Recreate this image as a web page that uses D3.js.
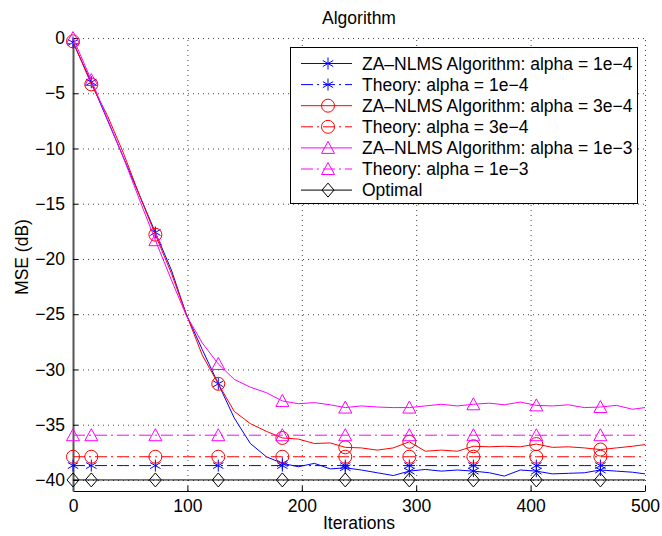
<!DOCTYPE html>
<html>
<head>
<meta charset="utf-8">
<script src="https://cdn.jsdelivr.net/npm/d3@7"></script>
<style>
    body { margin: 0; background: #fff; }
    text { font-family: "Liberation Sans", Arial, sans-serif; }
</style>
</head>
<body>
<script>
// iteration index of each sample
var iters = [0, 16, 30, 44, 58, 72, 86, 99, 113, 127, 141, 155, 169, 183, 197, 211, 225, 238, 252,
    266, 280, 294, 308, 322, 336, 350, 364, 377, 391, 405, 419, 433, 447, 461, 475, 489, 500];

var mse1e4 = [-0.4, -4.0, -7.4, -10.8, -14.2, -17.6, -21.0, -25.0, -28.2, -31.3, -34.4, -36.7, -37.9, -38.5,
    -38.8, -38.5, -39.0, -38.9, -39.1, -39.35, -39.6, -39.2, -39.05, -39.2, -39.1, -39.2, -39.35, -39.65,
    -39.1, -39.2, -39.45, -39.4, -39.35, -39.1, -39.2, -39.3, -39.45];

var mse3e4 = [-0.3, -4.2, -7.0, -10.4, -14.2, -17.8, -21.3, -25.0, -28.7, -31.3, -33.8, -34.9, -35.6, -36.2,
    -36.3, -36.7, -36.65, -37.05, -37.1, -37.3, -37.1, -36.55, -37.4, -37.3, -37.4, -36.95, -37.0, -36.95,
    -37.0, -36.75, -37.05, -37.0, -37.1, -37.25, -37.1, -36.95, -36.8];

var mse1e3 = [0.0, -3.8, -7.3, -10.8, -14.6, -18.3, -21.9, -25.1, -27.6, -29.5, -30.9, -31.6, -32.1, -32.85,
    -33.1, -33.0, -33.2, -33.45, -33.3, -33.4, -33.45, -33.45, -33.3, -33.15, -33.3, -33.15, -33.05, -33.2,
    -32.95, -33.25, -33.3, -33.2, -33.45, -33.4, -33.25, -33.6, -33.45];

// steady state levels
var theory1e4 = -38.7;
var theory3e4 = -37.9;
var theory1e3 = -35.95;
var optimal = -40;

// samples that carry a marker
var markerIdx = [0, 1, 5, 9, 13, 17, 21, 25, 29, 33];

var xTicks = [0, 100, 200, 300, 400, 500];
var yTicks = [0, -5, -10, -15, -20, -25, -30, -35, -40];

var series = [
    { name: "ZA\u2013NLMS Algorithm: alpha = 1e\u22124", values: mse1e4, color: "#0000ff", dash: null, marker: "star" },
    { name: "Theory: alpha = 1e\u22124", values: iters.map(() => theory1e4), color: "#0000ff", dash: "12,4,2,4", marker: "star" },
    { name: "ZA\u2013NLMS Algorithm: alpha = 3e\u22124", values: mse3e4, color: "#ff0000", dash: null, marker: "circle" },
    { name: "Theory: alpha = 3e\u22124", values: iters.map(() => theory3e4), color: "#ff0000", dash: "12,4,2,4", marker: "circle" },
    { name: "ZA\u2013NLMS Algorithm: alpha = 1e\u22123", values: mse1e3, color: "#ff00ff", dash: null, marker: "triangle" },
    { name: "Theory: alpha = 1e\u22123", values: iters.map(() => theory1e3), color: "#ff00ff", dash: "12,4,2,4", marker: "triangle" },
    { name: "Optimal", values: iters.map(() => optimal), color: "#000000", dash: null, marker: "diamond" }
];

var width = 662;
var height = 536;
var fontSize = 17.5;

var markerPath = {
    star: "M0,-6V6M-5.2,-3L5.2,3M-5.2,3L5.2,-3",
    circle: "M6.5,0A6.5,6.5,0,1,1,-6.5,0A6.5,6.5,0,1,1,6.5,0Z",
    triangle: "M0,-6.5L6.5,5.5L-6.5,5.5Z",
    diamond: "M0,-7L6,0L0,7L-6,0Z"
};

let svg = d3.select('body').append('svg');
svg.attr('width', width)
    .attr('height', height);

var x = d3.scaleLinear()
    .domain([0, 500])
    .range([73, 645]);

var y = d3.scaleLinear()
    .domain([-41, 0])
    .range([491, 38]);

// dotted grid
var grid = svg.append("g")
    .attr("stroke", "#444")
    .attr("stroke-width", 1)
    .attr("stroke-dasharray", "1,4");

grid.selectAll(".gx")
    .data(xTicks.slice(1))
    .enter()
    .append("line")
    .attr("x1", d => x(d) + 0.5)
    .attr("x2", d => x(d) + 0.5)
    .attr("y1", y(-41))
    .attr("y2", y(0));

grid.selectAll(".gy")
    .data(yTicks)
    .enter()
    .append("line")
    .attr("x1", x(0))
    .attr("x2", x(500))
    .attr("y1", d => y(d) + 0.5)
    .attr("y2", d => y(d) + 0.5);

// axes, ticks pointing in
var xAxis = g => g
    .attr("transform", `translate(0,${y(-41)})`)
    .call(d3.axisBottom(x)
        .tickValues(xTicks)
        .tickSizeInner(-5)
        .tickSizeOuter(0)
        .tickPadding(9));

var yAxis = g => g
    .attr("transform", `translate(${x(0)},0)`)
    .call(d3.axisLeft(y)
        .tickValues(yTicks)
        .tickSizeInner(-5)
        .tickSizeOuter(0)
        .tickPadding(8));

svg.append("g")
    .call(xAxis)
    .call(g => g.selectAll("text").attr("font-size", fontSize).attr("fill", "#000"));

svg.append("g")
    .call(yAxis)
    .call(g => g.select(".domain").attr("stroke", "#555").attr("stroke-width", 2))
    .call(g => g.selectAll("text").attr("font-size", fontSize).attr("fill", "#000"));

// curves
var line = d3.line()
    .x((d, i) => x(iters[i]))
    .y(d => y(d));

series.forEach(function (s) {
    svg.append("path")
        .attr("d", line(s.values))
        .attr("fill", "none")
        .attr("stroke", s.color)
        .attr("stroke-width", 1)
        .attr("stroke-dasharray", s.dash);

    svg.append("g")
        .selectAll("path")
        .data(markerIdx)
        .enter()
        .append("path")
        .attr("transform", i => `translate(${x(iters[i])},${y(s.values[i])})`)
        .attr("d", markerPath[s.marker])
        .attr("fill", "none")
        .attr("stroke", s.color)
        .attr("stroke-width", 1);
});

// labels
svg.append("text")
    .attr("x", 359)
    .attr("y", 24)
    .attr("text-anchor", "middle")
    .attr("font-size", fontSize)
    .text("Algorithm");

svg.append("text")
    .attr("x", 359)
    .attr("y", 529)
    .attr("text-anchor", "middle")
    .attr("font-size", fontSize)
    .text("Iterations");

svg.append("text")
    .attr("transform", "translate(28,257) rotate(-90)")
    .attr("text-anchor", "middle")
    .attr("font-size", fontSize)
    .text("MSE (dB)");

// legend
var legend = svg.append("g");

legend.append("rect")
    .attr("x", 290.5)
    .attr("y", 47.5)
    .attr("width", 347)
    .attr("height", 156)
    .attr("fill", "#fff")
    .attr("stroke", "#000");

var rows = legend.selectAll(".row")
    .data(series)
    .enter()
    .append("g")
    .attr("transform", (d, i) => `translate(0,${63.5 + i * 21.1})`);

rows.append("line")
    .attr("x1", 301)
    .attr("x2", 352)
    .attr("stroke", d => d.color)
    .attr("stroke-dasharray", d => d.dash);

rows.append("path")
    .attr("transform", "translate(328,0)")
    .attr("d", d => markerPath[d.marker])
    .attr("fill", "none")
    .attr("stroke", d => d.color);

rows.append("text")
    .attr("x", 362)
    .attr("y", 6)
    .attr("font-size", fontSize)
    .text(d => d.name);
</script>
</body>
</html>
